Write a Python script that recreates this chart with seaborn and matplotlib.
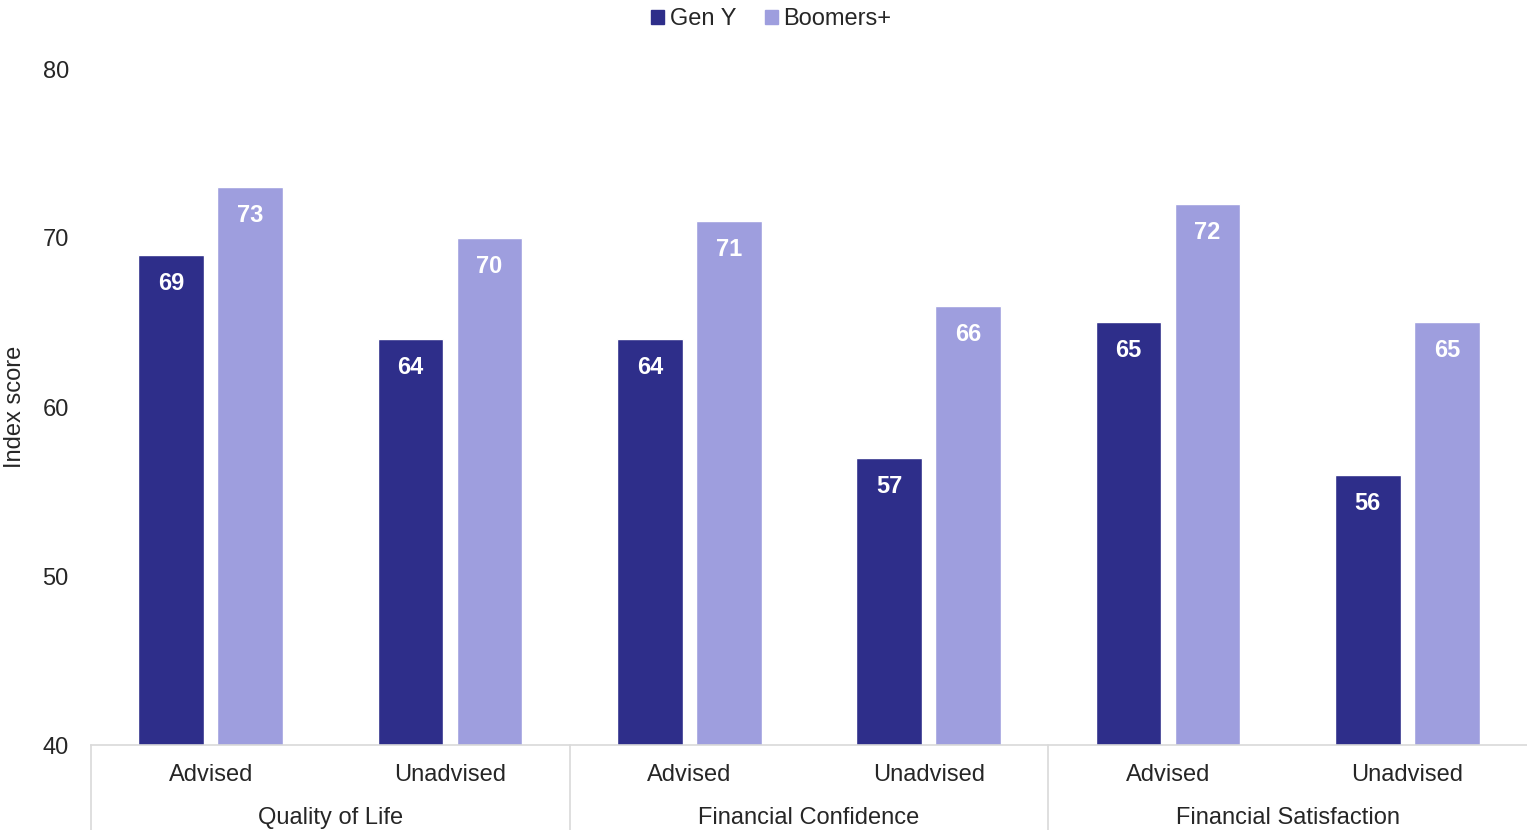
import matplotlib
matplotlib.use("Agg")
import matplotlib.pyplot as plt
import seaborn as sns
import pandas as pd

# Index scores by measure, advice status and generation
metrics = ["Quality of Life", "Financial Confidence", "Financial Satisfaction"]
advice = ["Advised", "Unadvised"]
series = ["Gen Y", "Boomers+"]
gen_y = [69, 64, 64, 57, 65, 56]
boomers = [73, 70, 71, 66, 72, 65]
y_ticks = [40, 50, 60, 70, 80]

DARK = "#2E2E8A"
LIGHT = "#9E9EDE"
GRID = "#D9D9D9"

sns.set_theme(style="white")
plt.rcParams["font.family"] = ["Liberation Sans", "DejaVu Sans"]

keys = [f"{m}|{a}" for m in metrics for a in advice]
df = pd.DataFrame({
    "key": keys * 2,
    "series": [series[0]] * len(keys) + [series[1]] * len(keys),
    "score": gen_y + boomers,
})

fig = plt.figure(figsize=(15.27, 8.30), dpi=100)
ax = fig.add_axes([91 / 1527, 85 / 830, 1 - 91 / 1527, (745 - 69) / 830])

sns.barplot(data=df, x="key", y="score", hue="series", order=keys,
            hue_order=series, palette=[DARK, LIGHT], width=0.66, gap=0.165,
            saturation=1, errorbar=None, legend=False, ax=ax)

ax.set_ylim(40, 80)
ax.set_xlim(-0.5, len(keys) - 0.5)
ax.set_yticks(y_ticks)
ax.set_yticklabels([str(t) for t in y_ticks], fontsize=17)
ax.tick_params(axis="y", length=0, pad=16)
ax.set_ylabel("Index score", fontsize=17, labelpad=12)
ax.set_xlabel("")

ax.set_xticks(range(len(keys)))
ax.set_xticklabels([a for m in metrics for a in advice], fontsize=17)
ax.tick_params(axis="x", length=0, pad=14)

for side in ["left", "right", "top"]:
    ax.spines[side].set_visible(False)
ax.spines["bottom"].set_color(GRID)
ax.spines["bottom"].set_linewidth(1.2)

# Value labels inside the bar tops
for container in ax.containers:
    for bar in container:
        h = bar.get_height()
        ax.annotate(f"{h:.0f}", (bar.get_x() + bar.get_width() / 2, h),
                    xytext=(0, -20.5), textcoords="offset points",
                    ha="center", va="center", color="white",
                    fontsize=17, fontweight="bold")

# Group separators and group labels beneath the axis
trans = ax.get_xaxis_transform()
for i in range(len(metrics)):
    xpos = -0.5 + i * len(advice)
    ax.plot([xpos, xpos], [0, -0.2], transform=trans, color=GRID,
            lw=1.2, clip_on=False)
for i, m in enumerate(metrics):
    ax.text(i * len(advice) + (len(advice) - 1) / 2, -0.1085, m,
            transform=trans, ha="center", va="center", fontsize=17)

handles = [plt.Rectangle((0, 0), 1, 1, color=c) for c in (DARK, LIGHT)]
fig.legend(handles, series, loc="upper center", bbox_to_anchor=(0.505, 1.016),
           ncol=2, frameon=False, fontsize=17, handlelength=0.55,
           handleheight=0.55, handletextpad=0.25, columnspacing=1.2)

fig.savefig("out.png", dpi=100)
